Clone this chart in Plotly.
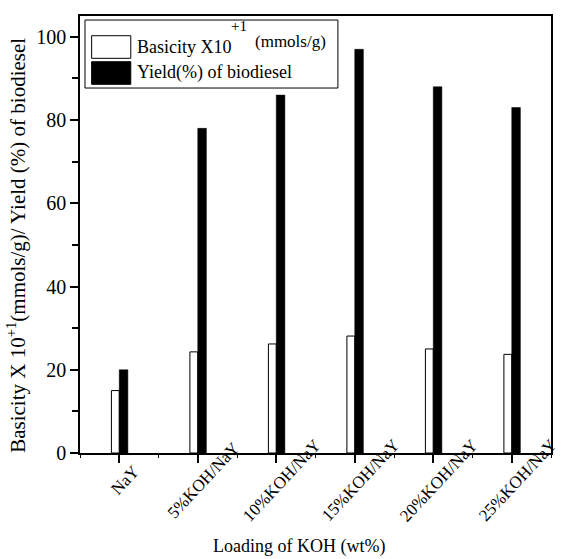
import plotly.graph_objects as go

categories = ["NaY", "5%KOH/NaY", "10%KOH/NaY", "15%KOH/NaY", "20%KOH/NaY", "25%KOH/NaY"]
basicity = [15.0, 24.3, 26.2, 28.1, 25.0, 23.7]
yield_pct = [20, 78, 86, 97, 88, 83]
y_ticks = [0, 20, 40, 60, 80, 100]

FONT = "Liberation Serif, Times New Roman, serif"
xpos = list(range(len(categories)))

fig = go.Figure()
fig.add_trace(go.Bar(x=xpos, y=basicity, offset=-0.1, width=0.1,
                     marker=dict(color="white", line=dict(color="black", width=1)),
                     name="Basicity", showlegend=False))
fig.add_trace(go.Bar(x=xpos, y=yield_pct, offset=0.0, width=0.11,
                     marker=dict(color="black", line=dict(color="black", width=0.5)),
                     name="Yield", showlegend=False))

fig.update_layout(
    width=561, height=559,
    margin=dict(l=80, r=8, t=16, b=106),
    paper_bgcolor="white", plot_bgcolor="white",
    font=dict(family=FONT, color="black", size=18),
    barmode="overlay",
)
fig.update_xaxes(range=[-0.5, 5.5], tickvals=xpos, showticklabels=False,
                 showline=True, linecolor="black", linewidth=1.5, mirror=True,
                 ticks="outside", ticklen=8, tickwidth=1.5, tickcolor="black",
                 minor=dict(ticks="outside", ticklen=3, tick0=0.5, dtick=1, tickcolor="black", tickwidth=1),
                 showgrid=False, zeroline=False)
fig.update_yaxes(range=[0, 105], tickvals=y_ticks,
                 showline=True, linecolor="black", linewidth=1.5, mirror=True,
                 ticks="outside", ticklen=8, tickwidth=1.5, tickcolor="black",
                 minor=dict(ticks="outside", ticklen=6, dtick=10, tickcolor="black", tickwidth=1.5),
                 tickfont=dict(size=20), showgrid=False, zeroline=False)

# rotated category labels
for i, c in enumerate(categories):
    fig.add_annotation(x=i + 0.07, y=-0.062, xref="x", yref="paper", text=c,
                       textangle=-47, showarrow=False, xanchor="center", yanchor="middle",
                       font=dict(size=17, family=FONT))

fig.add_annotation(x=0.465, y=-0.215, xref="paper", yref="paper", text="Loading of KOH (wt%)",
                   showarrow=False, xanchor="center", yanchor="middle", font=dict(size=18, family=FONT))
fig.add_annotation(x=-0.135, y=0.475, xref="paper", yref="paper",
                   text="Basicity X 10<sup>+1</sup>(mmols/g)/ Yield (%) of biodiesel",
                   textangle=-90, showarrow=False, xanchor="center", yanchor="middle",
                   font=dict(size=21, family=FONT))

# legend box
fig.add_shape(type="rect", xref="paper", yref="paper", x0=0.0106, x1=0.5476, y0=0.8352, y1=0.9908,
              line=dict(color="black", width=1), fillcolor="white", layer="above")
fig.add_shape(type="rect", xref="paper", yref="paper", x0=0.0247, x1=0.1078, y0=0.9032, y1=0.9549,
              line=dict(color="black", width=1), fillcolor="white", layer="above")
fig.add_shape(type="rect", xref="paper", yref="paper", x0=0.0247, x1=0.1078, y0=0.8437, y1=0.8954,
              line=dict(color="black", width=1), fillcolor="black", layer="above")
fig.add_annotation(x=0.1163, y=0.929, xref="paper", yref="paper",
                   text="Basicity X10", showarrow=False,
                   xanchor="left", yanchor="middle", font=dict(size=18, family=FONT))
fig.add_annotation(x=0.317, y=0.978, xref="paper", yref="paper",
                   text="+1", showarrow=False,
                   xanchor="left", yanchor="middle", font=dict(size=15, family=FONT))
fig.add_annotation(x=0.368, y=0.942, xref="paper", yref="paper",
                   text="(mmols/g)", showarrow=False,
                   xanchor="left", yanchor="middle", font=dict(size=17, family=FONT))
fig.add_annotation(x=0.1163, y=0.8696, xref="paper", yref="paper",
                   text="Yield(%) of biodiesel", showarrow=False,
                   xanchor="left", yanchor="middle", font=dict(size=18, family=FONT))

fig.write_html("out.html")
